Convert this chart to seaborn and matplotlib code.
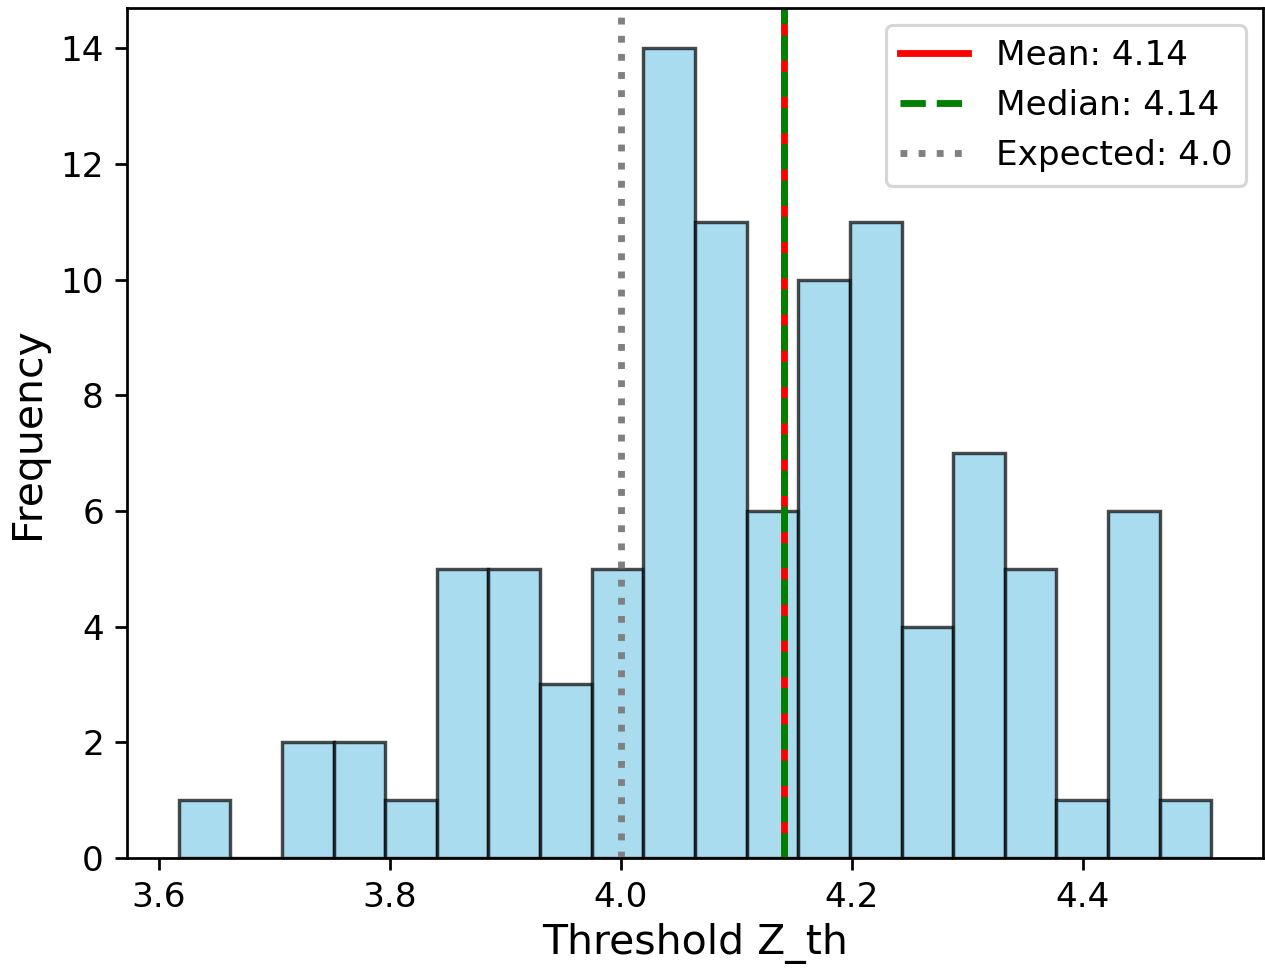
import numpy as np
import pandas as pd
import matplotlib
matplotlib.use("Agg")
import matplotlib.pyplot as plt
import seaborn as sns

# Histogram data (20 bins)
bin_lo = 3.6173
bin_hi = 4.5113
counts = [1, 0, 2, 2, 1, 5, 5, 3, 5, 14, 11, 6, 10, 11, 4, 7, 5, 1, 6, 1]
mean_val = 4.141
median_val = 4.141
expected_val = 4.0

edges = np.linspace(bin_lo, bin_hi, len(counts) + 1)
centers = (edges[:-1] + edges[1:]) / 2
df = pd.DataFrame({'z': centers, 'n': counts})

k = 1.085  # scale relative to default sizes
plt.rcParams.update({
    'font.size': 10 * k,
    'axes.linewidth': 0.8 * k,
    'xtick.major.size': 3.5 * k,
    'ytick.major.size': 3.5 * k,
    'xtick.major.width': 0.8 * k,
    'ytick.major.width': 0.8 * k,
})

fig = plt.figure(figsize=(1265 / 227, 970 / 227), dpi=227)
ax = fig.add_axes([0.1004, 0.1155, 0.8980, 0.8763])

sns.histplot(data=df, x='z', weights='n', bins=list(edges), color='skyblue', alpha=0.7,
             edgecolor=(0, 0, 0, 0.7), linewidth=1.0 * k, ax=ax)

ax.axvline(mean_val, color='red', linestyle='-', linewidth=2 * k, label=f'Mean: {mean_val:.2f}')
ax.axvline(median_val, color='green', linestyle='--', linewidth=2 * k, label=f'Median: {median_val:.2f}')
ax.axvline(expected_val, color='gray', linestyle=':', linewidth=2 * k, label=f'Expected: {expected_val}')

ax.set_xticks([3.6, 3.8, 4.0, 4.2, 4.4])
ax.set_yticks(range(0, 15, 2))
ax.set_xlabel('Threshold Z_th', fontsize=12 * k, labelpad=3)
ax.set_ylabel('Frequency', fontsize=12 * k, labelpad=4)
ax.legend(loc='upper right')

fig.savefig('out.png', dpi=227)
